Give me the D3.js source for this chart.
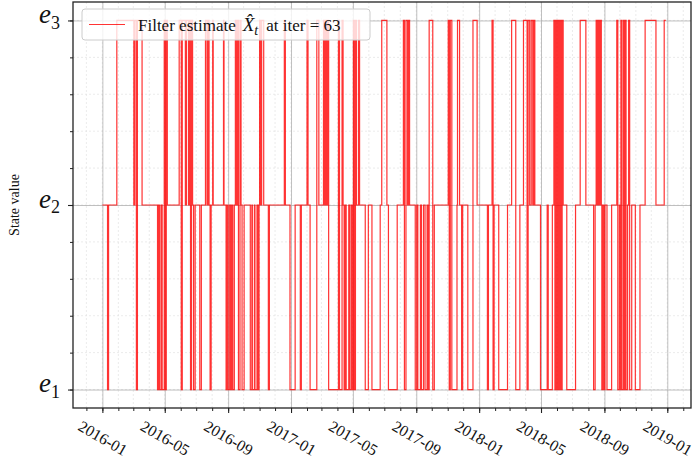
<!DOCTYPE html>
<html>
<head>
<meta charset="utf-8">
<script src="https://cdn.jsdelivr.net/npm/d3@7"></script>
<style>
  body { margin: 0; background: #fff; }
  svg { display: block; }
</style>
</head>
<body>
<div class="graph"></div>
<script>
// Fechas de cambio de estado y estado tomado a partir de cada fecha
const changeDates = [
  "2016-01-01","2016-01-11","2016-01-13","2016-01-29","2016-03-02","2016-03-04","2016-03-07","2016-03-09",
  "2016-03-18","2016-04-17","2016-04-19","2016-04-21","2016-04-24","2016-04-26","2016-04-30","2016-05-02",
  "2016-05-04","2016-05-06","2016-05-29","2016-06-02","2016-06-04","2016-06-10","2016-06-12","2016-06-16",
  "2016-06-18","2016-06-20","2016-06-22","2016-06-24","2016-06-26","2016-06-29","2016-07-08","2016-07-11",
  "2016-07-19","2016-07-22","2016-07-24","2016-07-26","2016-07-28","2016-07-30","2016-08-02","2016-08-03",
  "2016-08-23","2016-08-24","2016-08-28","2016-08-30","2016-09-01","2016-09-04","2016-09-06","2016-09-08",
  "2016-09-10","2016-09-13","2016-09-15","2016-09-17","2016-09-19","2016-09-21","2016-09-24","2016-09-26",
  "2016-09-28","2016-10-02","2016-10-14","2016-10-17","2016-10-18","2016-10-22","2016-10-23","2016-10-27",
  "2016-10-29","2016-10-31","2016-11-01","2016-11-03","2016-11-05","2016-11-09","2016-11-18","2016-11-20",
  "2016-12-19","2016-12-21","2016-12-30","2017-01-09","2017-01-19","2017-01-21","2017-02-01","2017-02-03",
  "2017-02-07","2017-02-20","2017-02-24","2017-03-05","2017-03-06","2017-03-08","2017-03-09","2017-03-10",
  "2017-03-11","2017-03-13","2017-03-15","2017-04-03","2017-04-05","2017-04-10","2017-04-12","2017-04-14",
  "2017-04-16","2017-04-18","2017-04-23","2017-04-25","2017-04-28","2017-04-30","2017-05-02","2017-05-04",
  "2017-05-06","2017-05-08","2017-05-12","2017-05-14","2017-05-25","2017-05-31","2017-06-07","2017-06-23",
  "2017-06-26","2017-07-06","2017-07-09","2017-07-26","2017-08-07","2017-08-09","2017-08-12","2017-08-15",
  "2017-08-17","2017-08-19","2017-08-30","2017-09-02","2017-09-04","2017-09-09","2017-09-11","2017-09-15",
  "2017-09-18","2017-09-22","2017-09-24","2017-09-26","2017-10-03","2017-10-06","2017-11-02","2017-11-04",
  "2017-11-06","2017-11-09","2017-11-19","2017-11-20","2017-11-24","2017-11-28","2017-11-30","2017-12-10",
  "2017-12-20","2017-12-28","2018-01-17","2018-01-19","2018-01-26","2018-01-28","2018-01-30","2018-02-08",
  "2018-02-25","2018-03-05","2018-03-13","2018-03-21","2018-03-28","2018-04-04","2018-04-06","2018-04-09",
  "2018-04-12","2018-04-15","2018-04-17","2018-04-19","2018-04-30","2018-05-13","2018-05-15","2018-05-23",
  "2018-05-26","2018-05-28","2018-05-30","2018-06-01","2018-06-03","2018-06-05","2018-06-07","2018-06-09",
  "2018-06-11","2018-06-13","2018-06-20","2018-07-07","2018-07-16","2018-07-27","2018-08-11","2018-08-14",
  "2018-08-16","2018-08-18","2018-08-20","2018-08-22","2018-08-24","2018-08-26","2018-08-27","2018-08-29",
  "2018-08-31","2018-09-02","2018-09-06","2018-09-15","2018-09-25","2018-09-27","2018-09-30","2018-10-02",
  "2018-10-03","2018-10-05","2018-10-08","2018-10-10","2018-10-11","2018-10-13","2018-10-16","2018-10-18",
  "2018-10-20","2018-10-24","2018-10-31","2018-11-09","2018-11-19","2018-12-10","2018-12-26"
];
const stateValues = [
  2,1,2,3,2,3,1,3,
  2,1,2,1,2,1,3,1,
  3,2,3,1,3,2,3,2,
  3,1,3,2,1,2,1,2,
  3,2,3,2,1,2,3,2,
  3,2,1,2,1,2,1,2,
  1,2,3,2,3,1,3,2,
  1,2,1,2,1,2,1,2,
  1,2,3,2,3,2,1,2,
  3,2,1,2,1,2,3,2,
  1,3,2,3,2,3,2,3,
  2,3,1,3,1,3,2,1,
  2,1,2,1,2,1,3,1,
  3,2,3,2,1,2,1,2,
  3,2,1,2,3,1,3,2,
  3,2,1,2,1,2,1,2,
  1,2,1,3,1,2,3,1,
  3,1,2,3,2,1,2,1,
  3,2,1,2,3,1,2,1,
  2,3,1,2,3,1,3,2,
  3,2,3,2,1,2,1,2,
  3,1,3,1,3,1,3,1,
  3,2,1,2,3,2,1,2,
  3,2,3,2,3,2,1,2,
  1,2,1,2,3,1,2,1,
  3,1,3,1,3,1,2,3,
  1,2,1,2,3,2,3
];
const endDate = "2018-12-29";

// Límites de los ejes y etiquetas
const xLimits = ["2015-11-05", "2019-02-16"];
const yLimits = [0.9, 3.1];
const stateTicks = [1, 2, 3];
const stateLabels = ["1", "2", "3"];
const yLabel = "State value";
const legendLabel = ["Filter estimate", "X\u0302", "t", "at iter = 63"];

// Tamaño y márgenes
const width = 694;
const height = 462;
const plot = { left: 73, right: 691, top: 2, bottom: 408 };

const svg = d3.select(".graph")
  .append("svg")
  .attr("width", width)
  .attr("height", height);

const parseDate = d3.utcParse("%Y-%m-%d");
const points = changeDates.map((d, i) => ({ date: parseDate(d), state: stateValues[i] }));
points.push({ date: parseDate(endDate), state: stateValues[stateValues.length - 1] });

const x = d3.scaleUtc()
  .domain(xLimits.map(parseDate))
  .range([plot.left, plot.right]);

const y = d3.scaleLinear()
  .domain(yLimits)
  .range([plot.bottom, plot.top]);

const majorX = x.ticks(d3.utcMonth.every(4));
const minorX = x.ticks(d3.utcMonth.every(1));
const minorY = d3.range(1, 3.001, 0.2);

// Rejilla menor (punteada)
const grid = svg.append("g");
grid.selectAll(".mgx")
  .data(minorX)
  .join("line")
  .attr("x1", d => x(d)).attr("x2", d => x(d))
  .attr("y1", plot.top).attr("y2", plot.bottom)
  .attr("stroke", "#dedede").attr("stroke-width", 0.6).attr("stroke-dasharray", "2,2");
grid.selectAll(".mgy")
  .data(minorY)
  .join("line")
  .attr("x1", plot.left).attr("x2", plot.right)
  .attr("y1", d => y(d)).attr("y2", d => y(d))
  .attr("stroke", "#dedede").attr("stroke-width", 0.6).attr("stroke-dasharray", "2,2");

// Rejilla mayor
svg.append("g")
  .attr("transform", `translate(0, ${plot.bottom})`)
  .call(d3.axisBottom(x).tickValues(majorX).tickSize(-(plot.bottom - plot.top)).tickFormat(""))
  .call(g => g.select(".domain").remove())
  .call(g => g.selectAll("line").attr("stroke", "#b0b0b0").attr("stroke-width", 0.8));
svg.append("g")
  .attr("transform", `translate(${plot.left}, 0)`)
  .call(d3.axisLeft(y).tickValues(stateTicks).tickSize(-(plot.right - plot.left)).tickFormat(""))
  .call(g => g.select(".domain").remove())
  .call(g => g.selectAll("line").attr("stroke", "#b0b0b0").attr("stroke-width", 0.8));

// Serie escalonada
const line = d3.line()
  .x(d => x(d.date))
  .y(d => y(d.state))
  .curve(d3.curveStepAfter);

svg.append("path")
  .datum(points)
  .attr("fill", "none")
  .attr("stroke", "red")
  .attr("stroke-opacity", 0.8)
  .attr("stroke-width", 1.2)
  .attr("d", line);

// Marco
svg.append("rect")
  .attr("x", plot.left).attr("y", plot.top)
  .attr("width", plot.right - plot.left).attr("height", plot.bottom - plot.top)
  .attr("fill", "none").attr("stroke", "#222").attr("stroke-width", 1.3);

// Eje X: marcas menores y mayores con etiquetas giradas
svg.append("g")
  .attr("transform", `translate(0, ${plot.bottom})`)
  .call(d3.axisBottom(x).tickValues(minorX).tickSize(3).tickFormat(""))
  .call(g => g.select(".domain").remove())
  .call(g => g.selectAll("line").attr("stroke", "#222"));

svg.append("g")
  .attr("transform", `translate(0, ${plot.bottom})`)
  .call(d3.axisBottom(x).tickValues(majorX).tickSize(5).tickFormat(d3.utcFormat("%Y-%m")))
  .call(g => g.select(".domain").remove())
  .call(g => g.selectAll("line").attr("stroke", "#222").attr("stroke-width", 1.1))
  .call(g => g.selectAll("text")
    .attr("y", 0)
    .attr("dy", "0.35em")
    .attr("transform", "translate(0, 30) rotate(30)")
    .attr("text-anchor", "middle")
    .attr("fill", "#111")
    .style("font-family", "'Liberation Serif', serif")
    .style("font-size", "16px"));

// Eje Y: marcas menores y mayores
svg.append("g")
  .attr("transform", `translate(${plot.left}, 0)`)
  .call(d3.axisLeft(y).tickValues(minorY).tickSize(3).tickFormat(""))
  .call(g => g.select(".domain").remove())
  .call(g => g.selectAll("line").attr("stroke", "#222"));

const yAxis = svg.append("g")
  .attr("transform", `translate(${plot.left}, 0)`)
  .call(d3.axisLeft(y).tickValues(stateTicks).tickSize(5).tickFormat(""))
  .call(g => g.select(".domain").remove())
  .call(g => g.selectAll("line").attr("stroke", "#222").attr("stroke-width", 1.1));

yAxis.selectAll(".tick")
  .append("text")
  .attr("x", -13)
  .attr("dy", "0.22em")
  .attr("text-anchor", "end")
  .attr("fill", "#111")
  .style("font-family", "'Liberation Serif', serif")
  .each(function (d, i) {
    const t = d3.select(this);
    t.append("tspan").style("font-style", "italic").style("font-size", "27px").text("e");
    t.append("tspan").style("font-size", "18px").attr("dy", "0.3em").text(stateLabels[i]);
  });

// Título del eje Y
svg.append("text")
  .attr("transform", `translate(19, ${(plot.top + plot.bottom) / 2}) rotate(-90)`)
  .attr("text-anchor", "middle")
  .attr("fill", "#111")
  .style("font-family", "'Liberation Serif', serif")
  .style("font-size", "14px")
  .text(yLabel);

// Leyenda
const legend = svg.append("g").attr("transform", "translate(82, 9)");
legend.append("rect")
  .attr("width", 288).attr("height", 31).attr("rx", 3)
  .attr("fill", "white").attr("fill-opacity", 0.8)
  .attr("stroke", "#cccccc").attr("stroke-width", 1);
legend.append("line")
  .attr("x1", 7).attr("x2", 43).attr("y1", 15.5).attr("y2", 15.5)
  .attr("stroke", "red").attr("stroke-opacity", 0.8).attr("stroke-width", 1.2);
const legendText = legend.append("text")
  .attr("x", 56).attr("y", 21.5)
  .attr("fill", "#111")
  .style("font-family", "'Liberation Serif', serif")
  .style("font-size", "17px");
legendText.append("tspan").text(legendLabel[0]);
legendText.append("tspan").attr("dx", 7).style("font-style", "italic").style("font-size", "19px").text(legendLabel[1]);
legendText.append("tspan").attr("dy", 4).style("font-style", "italic").style("font-size", "14px").text(legendLabel[2]);
legendText.append("tspan").attr("dy", -4).attr("dx", 8).text(legendLabel[3]);
</script>
</body>
</html>
